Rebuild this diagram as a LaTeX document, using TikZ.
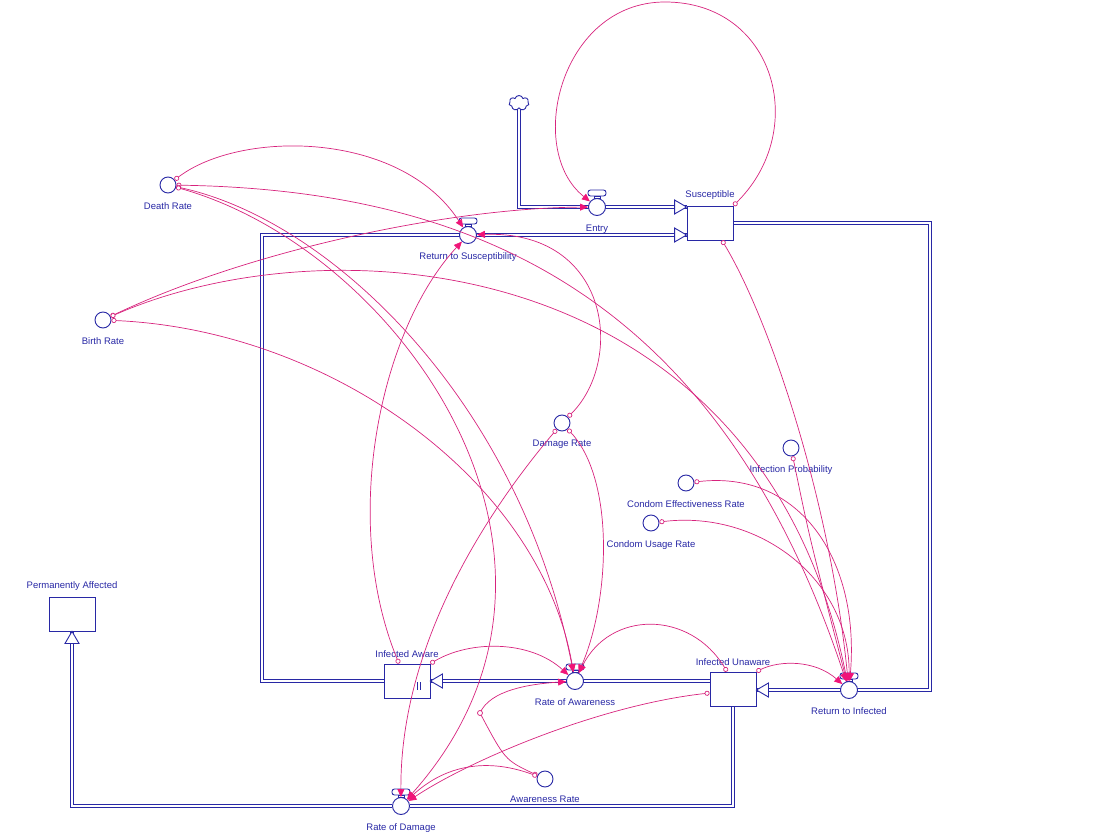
\documentclass[tikz,border=0pt]{standalone}
\usepackage{fontspec}
\setmainfont{Liberation Sans}
\usetikzlibrary{arrows.meta, shapes.symbols, calc, backgrounds}
\definecolor{vblue}{RGB}{40,40,165}
\definecolor{vpink}{RGB}{215,35,125}
\definecolor{tippink}{RGB}{240,20,120}

\tikzset{
	flowhead/.pic={\draw[vblue, fill=white, line width=0.9pt] (0,0) -- (-12,-7) -- (-12,7) -- cycle;},
	valvebar/.pic={\draw[vblue, fill=white, line width=0.9pt, rounded corners=2.5pt] (-9,-17) rectangle (9,-11); \draw[vblue, line width=0.9pt] (-3,-11) rectangle (3,-8.5);}
}

\begin{document}
\begin{tikzpicture}[x=1pt, y=-1pt, font=\fontsize{9.5}{11}\selectfont, text=vblue,
	stock/.style={rectangle, draw=vblue, line width=0.9pt, minimum width=46pt, minimum height=34pt, inner sep=0pt},
	valve/.style={circle, draw=vblue, fill=white, line width=0.9pt, minimum size=17pt, inner sep=0pt},
	aux/.style={circle, draw=vblue, line width=0.9pt, minimum size=16pt, inner sep=0pt},
	pipe/.style={draw=vblue, double=white, double distance=2.4pt, line width=1.2pt},
	conn/.style={draw=vpink, line width=0.7pt, {Circle[open, fill=white, length=5pt, width=5pt]}-{Triangle[length=8pt, width=7pt, color=tippink]}},
	lbl/.style={inner sep=0pt, label distance=8.5pt},
	toplbl/.style={inner sep=0pt, label distance=6pt}]

	\useasboundingbox (0,0) rectangle (1117,840);

	\node[stock, label={[toplbl]above:Susceptible}] (sus) at (710,223) {};
	\node[stock, label={[toplbl]above:Infected Aware}] (ia) at (407,681) {};
	\node[stock, label={[toplbl]above:Infected Unaware}] (iu) at (733,689) {};
	\node[stock, label={[toplbl]above:Permanently Affected}] (pa) at (72,614) {};

	\node[valve, label={[lbl]below:Entry}] (entry) at (597,207) {};
	\node[valve, label={[lbl]below:Return to Susceptibility}] (rts) at (468,235) {};
	\node[valve, label={[lbl]below:Rate of Awareness}] (roa) at (575,681) {};
	\node[valve, label={[lbl]below:Return to Infected}] (rti) at (849,690) {};
	\node[valve, label={[lbl]below:Rate of Damage}] (rod) at (401,806) {};

	\node[aux, label={[lbl]below:Death Rate}] (dr) at (168,185) {};
	\node[aux, label={[lbl]below:Birth Rate}] (br) at (103,320) {};
	\node[aux, label={[lbl]below:Damage Rate}] (dmr) at (562,423) {};
	\node[aux, label={[lbl]below:Infection Probability}] (ip) at (791,448) {};
	\node[aux, label={[lbl]below:Condom Effectiveness Rate}] (cer) at (686,483) {};
	\node[aux, label={[lbl]below:Condom Usage Rate}] (cur) at (651,523) {};
	\node[aux, label={[lbl]below:Awareness Rate}] (ar) at (545,779) {};

	\node[cloud, cloud puffs=7, draw=vblue, fill=white, line width=0.9pt, minimum width=20pt, minimum height=15pt, inner sep=0pt] (src) at (519,103) {};

	\coordinate (pipeL) at (262,0);
	\coordinate (pipeR) at (930,0);
	\coordinate (looptop) at (665,2);
	\coordinate (arbend) at (480,713);

	\begin{scope}[on background layer]
		\draw[pipe] (src.south) |- (sus.west |- entry);
		\draw[pipe] (ia.west) -| (pipeL |- rts) -- (sus.west |- rts);
		\draw[pipe] (sus.east) -| (pipeR |- rti) -- (iu.east |- rti);
		\draw[pipe] (iu.west |- roa) -- (ia.east |- roa);
		\draw[pipe] (iu.south) |- (rod) -| (pa.south);
	\end{scope}

	\path (sus.west |- entry) pic {flowhead};
	\path (sus.west |- rts) pic {flowhead};
	\path (iu.east |- rti) pic[rotate=180] {flowhead};
	\path (ia.east |- roa) pic[rotate=180] {flowhead};
	\path (pa.south) pic[rotate=90] {flowhead};
	\foreach \v in {entry, rts, roa, rti, rod}
		\path (\v) pic {valvebar};
	\draw[vblue, line width=0.8pt] ($(ia.center)+(10,1)$) -- +(0,8) ($(ia.center)+(13,1)$) -- +(0,8);

	\draw[conn] (sus.north east) .. controls (810,130) and (775,2) .. (looptop) .. controls (560,2) and (525,150) .. (entry);
	\draw[conn] (br) .. controls (250,250) and (450,208) .. (entry);
	\draw[conn] (br) .. controls (330,220) and (760,250) .. (rti);
	\draw[conn] (br) .. controls (330,330) and (540,480) .. (roa);
	\draw[conn] (dr) .. controls (240,130) and (400,130) .. (rts);
	\draw[conn] (dr) .. controls (480,190) and (720,300) .. (rti);
	\draw[conn] (dr) .. controls (330,220) and (520,400) .. (roa);
	\draw[conn] (dr) .. controls (400,250) and (620,560) .. (rod);
	\draw[conn] (dmr) .. controls (625,360) and (610,230) .. (rts);
	\draw[conn] (dmr) .. controls (615,480) and (610,600) .. (roa);
	\draw[conn] (dmr) .. controls (480,520) and (400,650) .. (rod);
	\draw[conn] ([xshift=-8pt]ia.north) .. controls (340,520) and (380,330) .. (rts);
	\draw[conn] (ia.north east) .. controls (470,640) and (530,640) .. (roa);
	\draw[conn] ([xshift=-6pt]iu.north) .. controls (690,610) and (610,610) .. (roa);
	\draw[conn] (iu.north east) .. controls (780,660) and (815,660) .. (rti);
	\draw[conn] ([yshift=-4pt]iu.west) .. controls (600,705) and (470,760) .. (rod);
	\draw[conn] (ar) .. controls (505,760) .. (arbend) .. controls (490,690) and (530,684) .. (roa);
	\draw[vpink, fill=white, line width=0.7pt] (arbend) circle (2.5pt);
	\draw[conn] (ar) .. controls (480,755) and (440,770) .. (rod);
	\draw[conn] ([xshift=12pt]sus.south) .. controls (770,320) and (830,500) .. (rti);
	\draw[conn] (ip) .. controls (810,540) .. (rti);
	\draw[conn] (cer) .. controls (800,470) and (860,560) .. (rti);
	\draw[conn] (cur) .. controls (760,510) and (850,580) .. (rti);

\end{tikzpicture}
\end{document}
